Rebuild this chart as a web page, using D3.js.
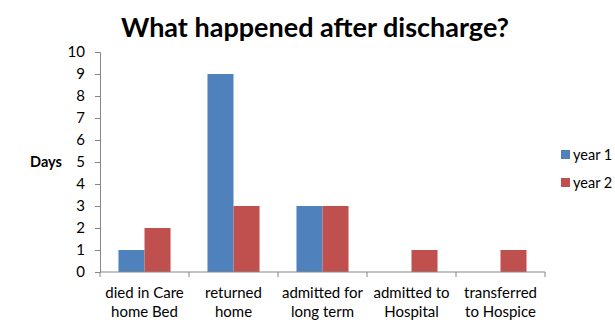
<!DOCTYPE html>
<html><head><meta charset="utf-8">
<script src="https://cdn.jsdelivr.net/npm/d3@7"></script>
<style>body{margin:0;background:#fff}svg{display:block}text{font-family:Lato,"Open Sans",sans-serif}</style>
</head><body><svg id="c" width="615" height="328"></svg>
<script>
const categories = [["died in Care","home Bed"],["returned","home"],["admitted for","long term"],["admitted to","Hospital"],["transferred","to Hospice"]];
const seriesNames = ["year 1","year 2"];
const year1 = [1, 9, 3, 0, 0];
const year2 = [2, 3, 3, 1, 1];
const yTicks = [0,1,2,3,4,5,6,7,8,9,10];
const colors = ["#4F81BD","#C0504D"];

(function(){
const svg = d3.select("#c");
const pl=100, pr=545, pt=52, pb=272;
const x = d3.scaleBand().domain(d3.range(categories.length)).range([pl,pr]).padding(0);
const xs = d3.scaleBand().domain(seriesNames).range([0,x.bandwidth()]).paddingOuter(0.71).paddingInner(0);
const y = d3.scaleLinear().domain([0,10]).range([pb,pt]);

svg.append("text").attr("x",315).attr("y",37).attr("text-anchor","middle")
  .attr("font-size",27).attr("font-weight","bold").attr("fill","#000").text("What happened after discharge?");

const data = [year1, year2];
data.forEach((vals, si) => {
  svg.append("g").selectAll("rect").data(vals).join("rect")
    .attr("x",(d,i)=>x(i)+xs(seriesNames[si]))
    .attr("y",d=>y(d)).attr("width",xs.bandwidth()).attr("height",d=>y(0)-y(d))
    .attr("fill",colors[si]);
});

const ya = svg.append("g").attr("transform",`translate(${pl},0)`)
  .call(d3.axisLeft(y).tickValues(yTicks).tickSize(5).tickPadding(10));
ya.select(".domain").attr("stroke","#868686");
ya.selectAll(".tick line").attr("stroke","#868686");
ya.selectAll(".tick text").attr("font-size",15).attr("fill","#000").attr("font-family","Lato,sans-serif");

const xa = svg.append("g").attr("transform",`translate(0,${pb})`);
xa.append("line").attr("x1",pl).attr("x2",pr).attr("stroke","#868686");
const edges = d3.range(categories.length+1).map(i=> i<categories.length ? x(i) : pr);
xa.selectAll("line.t").data(edges).join("line").attr("class","t")
  .attr("x1",d=>d).attr("x2",d=>d).attr("y1",0).attr("y2",5).attr("stroke","#868686");
categories.forEach((c,i)=>{
  const t = xa.append("text").attr("text-anchor","middle").attr("font-size",15).attr("fill","#000");
  c.forEach((line,j)=>t.append("tspan").attr("x",x(i)+x.bandwidth()/2).attr("y",26+j*19).text(line));
});

svg.append("text").attr("x",46).attr("y",167).attr("text-anchor","middle")
  .attr("font-size",14.5).attr("font-weight","bold").text("Days");

seriesNames.forEach((n,i)=>{
  const g = svg.append("g").attr("transform",`translate(561,${150+i*28})`);
  g.append("rect").attr("width",9).attr("height",9).attr("fill",colors[i]);
  g.append("text").attr("x",12).attr("y",9.5).attr("font-size",14.5).attr("fill","#000").text(n);
});
})();
</script></body></html>
